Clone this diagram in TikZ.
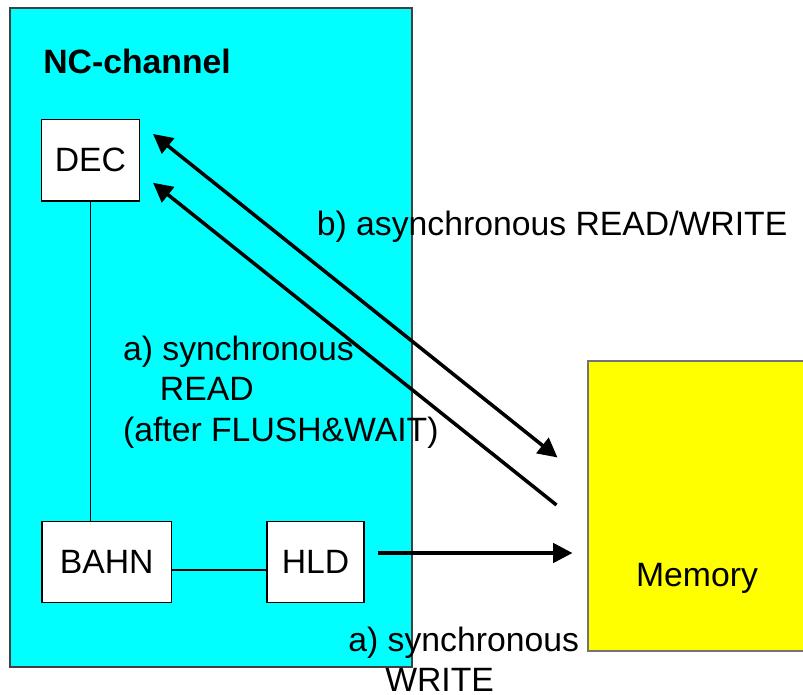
\documentclass[tikz,border=0pt]{standalone}
\usepackage{fontspec}
\setmainfont{Liberation Sans}
\usetikzlibrary{arrows.meta}
\usetikzlibrary{positioning}
\usetikzlibrary{fit}
\usetikzlibrary{calc}
\tikzset{unit/.style = {draw, fill = white, inner sep = 0, line width = 0.6pt, minimum height = 1.62cm}}
\tikzset{flow/.style = {line width = 2pt, -{Triangle[length = 11pt, width = 11pt]}}}
\tikzset{txt/.style = {inner sep = 0, align = left}}
\definecolor{mcyan}{rgb}{0, 1, 1}
\definecolor{myellow}{rgb}{1, 1, 0}

\begin{document}
\begin{tikzpicture}[x = 0.02cm, y = -0.02cm, font = \fontsize{19.2}{22.8}\selectfont]
    \useasboundingbox (0, 0) rectangle (803, 695);
    \node [fit = {(10, 8) (412, 667)}, draw = black!75, fill = mcyan, inner sep = 0, line width = 0.6pt] (chan) {};
    \node [fit = {(588, 361) (806, 651)}, draw = black!55, fill = myellow, inner sep = 0, line width = 0.6pt] (mem) {};
    \node [txt, anchor = base west, font = \fontsize{19.2}{22.8}\selectfont\bfseries] (nclabel) at (43, 74) {NC-channel};
    \node [txt] (memlabel) at (697, 578) {Memory};
    \node [unit, minimum width = 1.96cm, minimum height = 1.63cm] (dec) at (90.5, 160.25) {DEC};
    \node [unit, minimum width = 2.59cm] (bahn) at (106.75, 562) {BAHN};
    \node [unit, minimum width = 1.94cm] (hld) at (315.5, 562) {HLD};
    \draw [line width = 0.6pt] (dec.south) -- (dec.south |- bahn.north);
    \draw [line width = 0.6pt] ($(bahn.east) + (0, 8)$) -- ($(hld.west) + (0, 8)$);
    \draw [flow] ($(hld.east) + (13, -9)$) -- ($(mem.west |- hld.east) + (-15, -9)$);
    \draw [flow, {Triangle[length = 11pt, width = 11pt]}-{Triangle[length = 11pt, width = 11pt]}] ($(dec.north east) + (13, 15)$) -- ($(mem.north west) + (-30, 97)$);
    \draw [flow] ($(mem.west) + (-31, -1)$) -- ($(dec.east) + (13, 22.5)$);
    \node [txt, anchor = base west] (asynclabel) at (316.5, 235.5) {b) asynchronous READ/WRITE};
    \node [txt, anchor = base west] (readlabel) at (122.7, 441) {a) synchronous\\\hspace*{21pt}READ\\(after FLUSH\&WAIT)};
    \node [txt, anchor = base west] (writelabel) at (348, 691.5) {a) synchronous\\\hspace*{21pt}WRITE};
  \end{tikzpicture}
\end{document}
